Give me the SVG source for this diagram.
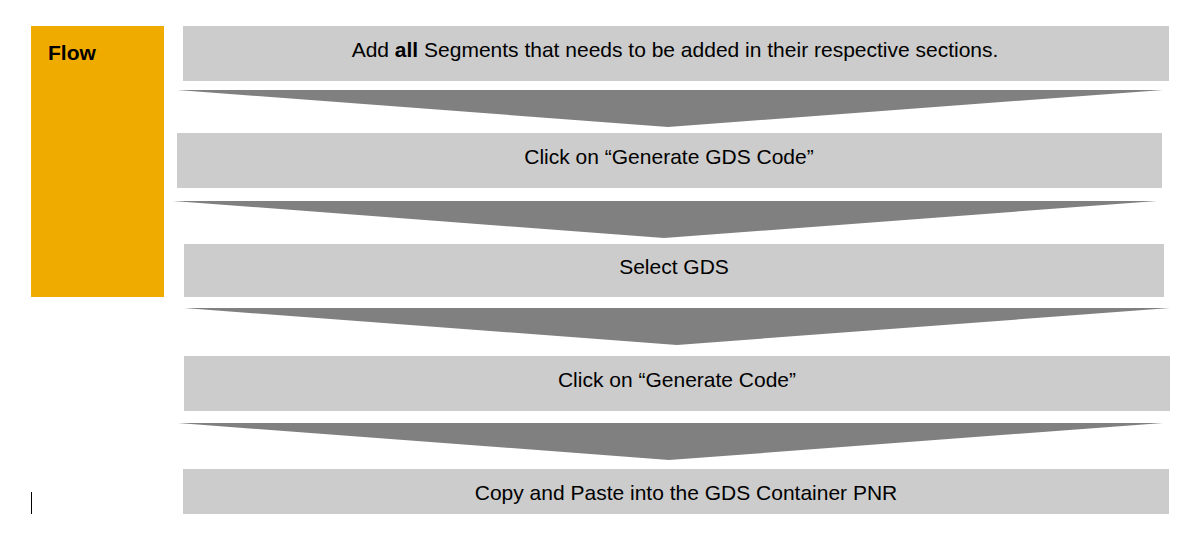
<svg xmlns="http://www.w3.org/2000/svg" width="1193" height="546" viewBox="0 0 1193 546">
<style>
.box{fill:#cccccc}
.arr{fill:#808080}
.t{font-family:"Liberation Sans",Arial,sans-serif;font-size:21px;fill:#000;text-anchor:middle}
</style>
<rect width="1193" height="546" fill="#fff"/>
<g id="flow">
<rect x="31" y="26" width="133" height="271" fill="#f0ab00"/>
<text x="48" y="59.5" font-family="Liberation Sans, Arial, sans-serif" font-size="21" font-weight="bold" fill="#000">Flow</text>
</g>
<g id="connectors">
<polygon class="arr" points="177,90 1163,90 668,127"/>
<polygon class="arr" points="173,201 1157,201 664,238"/>
<polygon class="arr" points="184,308 1170,308 677,345"/>
<polygon class="arr" points="178,423 1163,423 669,460"/>
</g>
<g id="step1">
<rect class="box" x="183" y="26" width="986" height="55"/>
<text class="t" x="675" y="56.5">Add <tspan font-weight="bold">all</tspan> Segments that needs to be added in their respective sections.</text>
</g>
<g id="step2">
<rect class="box" x="177" y="133" width="985" height="55"/>
<text class="t" x="669" y="163.5">Click on “Generate GDS Code”</text>
</g>
<g id="step3">
<rect class="box" x="184" y="244" width="980" height="53"/>
<text class="t" x="674" y="273.5">Select GDS</text>
</g>
<g id="step4">
<rect class="box" x="184" y="356" width="986" height="55"/>
<text class="t" x="677" y="386.5">Click on “Generate Code”</text>
</g>
<g id="step5">
<rect class="box" x="183" y="469" width="986" height="45"/>
<text class="t" x="686" y="499.5">Copy and Paste into the GDS Container PNR</text>
</g>
<line x1="31.5" y1="492" x2="31.5" y2="514" stroke="#000" stroke-width="1"/>
</svg>
